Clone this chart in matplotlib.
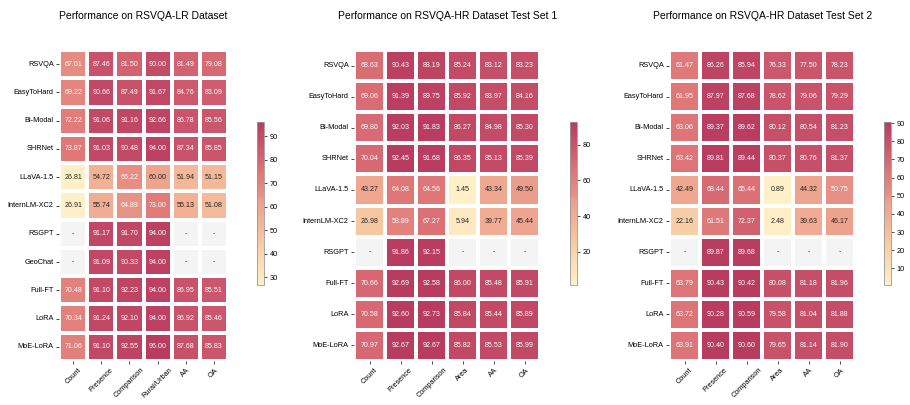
import numpy as np
import matplotlib
matplotlib.use('Agg')
import matplotlib.pyplot as plt
from matplotlib.colors import LinearSegmentedColormap, ListedColormap
import seaborn as sns

nan = np.nan

models_lr = ['RSVQA', 'EasyToHard', 'Bi-Modal', 'SHRNet', 'LLaVA-1.5', 'InternLM-XC2',
             'RSGPT', 'GeoChat', 'Full-FT', 'LoRA', 'MoE-LoRA']
models_hr = ['RSVQA', 'EasyToHard', 'Bi-Modal', 'SHRNet', 'LLaVA-1.5', 'InternLM-XC2',
             'RSGPT', 'Full-FT', 'LoRA', 'MoE-LoRA']
cols_lr = ['Count', 'Presence', 'Comparison', 'Rural/Urban', 'AA', 'OA']
cols_hr = ['Count', 'Presence', 'Comparison', 'Area', 'AA', 'OA']

lr = [[67.01, 87.46, 81.50, 90.00, 81.49, 79.08],
      [69.22, 90.66, 87.49, 91.67, 84.76, 83.09],
      [72.22, 91.06, 91.16, 92.66, 86.78, 85.56],
      [73.87, 91.03, 90.48, 94.00, 87.34, 85.85],
      [26.81, 54.72, 66.22, 60.00, 51.94, 51.15],
      [26.91, 55.74, 64.89, 73.00, 55.13, 51.08],
      [nan, 91.17, 91.70, 94.00, nan, nan],
      [nan, 91.09, 90.33, 94.00, nan, nan],
      [70.48, 91.10, 92.23, 94.00, 86.95, 85.51],
      [70.34, 91.24, 92.10, 94.00, 86.92, 85.46],
      [71.06, 91.10, 92.55, 96.00, 87.68, 85.83]]

hr1 = [[68.63, 90.43, 88.19, 85.24, 83.12, 83.23],
       [69.06, 91.39, 89.75, 85.92, 83.97, 84.16],
       [69.80, 92.03, 91.83, 86.27, 84.98, 85.30],
       [70.04, 92.45, 91.68, 86.35, 85.13, 85.39],
       [43.27, 64.08, 64.56, 1.45, 43.34, 49.50],
       [26.98, 58.89, 67.27, 5.94, 39.77, 45.44],
       [nan, 91.86, 92.15, nan, nan, nan],
       [70.66, 92.69, 92.58, 86.00, 85.48, 85.91],
       [70.58, 92.60, 92.73, 85.84, 85.44, 85.89],
       [70.97, 92.67, 92.67, 85.82, 85.53, 85.99]]

hr2 = [[61.47, 86.26, 85.94, 76.33, 77.50, 78.23],
       [61.95, 87.97, 87.68, 78.62, 79.06, 79.29],
       [63.06, 89.37, 89.62, 80.12, 80.54, 81.23],
       [63.42, 89.81, 89.44, 80.37, 80.76, 81.37],
       [42.49, 68.44, 65.44, 0.89, 44.32, 50.75],
       [22.16, 61.51, 72.37, 2.48, 39.63, 46.17],
       [nan, 89.87, 89.68, nan, nan, nan],
       [63.79, 90.43, 90.42, 80.08, 81.18, 81.96],
       [63.72, 90.28, 90.59, 79.58, 81.04, 81.88],
       [63.91, 90.40, 90.60, 79.65, 81.14, 81.90]]

titles = ['Performance on RSVQA-LR Dataset',
          'Performance on RSVQA-HR Dataset Test Set 1',
          'Performance on RSVQA-HR Dataset Test Set 2']

plt.rcParams['font.family'] = ['Liberation Sans', 'DejaVu Sans']

cmap = LinearSegmentedColormap.from_list('cream_crimson', [
    (0.0, '#fff0c8'), (0.25, '#f8cca4'), (0.45, '#f0a890'), (0.52, '#eca08c'),
    (0.545, '#e89286'), (0.68, '#e07878'), (0.8, '#d26070'), (1.0, '#b83c60')])
grey = ListedColormap(['#f4f4f4'])

fig = plt.figure(figsize=(9.1, 4.05), dpi=100)
W, H = 910.0, 405.0

# pixel boxes (left, top, right, bottom) measured on the reference
hm_boxes = [(59.3, 50, 227.7, 361), (354.3, 50, 540, 361), (669.3, 50, 855, 361)]
cb_boxes = [(257, 122, 264, 285), (570, 122, 577, 285), (884, 122, 891, 285)]

datasets = [(lr, models_lr, cols_lr), (hr1, models_hr, cols_hr), (hr2, models_hr, cols_hr)]

for k, (vals, rows, cols) in enumerate(datasets):
    arr = np.array(vals, dtype=float)
    l, t, r, b = hm_boxes[k]
    ax = fig.add_axes([l / W, 1 - b / H, (r - l) / W, (b - t) / H])
    l, t, r, b = cb_boxes[k]
    cax = fig.add_axes([l / W, 1 - b / H, (r - l) / W, (b - t) / H])

    missing = np.isnan(arr)
    # grey layer for missing cells
    sns.heatmap(np.where(missing, 0.0, nan), cmap=grey, cbar=False, linewidths=1.5,
                linecolor='white', ax=ax)
    sns.heatmap(arr, cmap=cmap, annot=True, fmt='.2f', annot_kws={'fontsize': 5.1},
                linewidths=1.5, linecolor='white', ax=ax, cbar_ax=cax,
                xticklabels=cols, yticklabels=rows)
    for i, j in zip(*np.where(missing)):
        ax.text(j + 0.5, i + 0.5, '-', ha='center', va='center', fontsize=5.1, color='#333333')

    ax.set_title(titles[k], fontsize=7.5, pad=22)
    ax.tick_params(axis='both', labelsize=5.3, length=2.5, width=0.5, pad=1.5)
    plt.setp(ax.get_xticklabels(), rotation=45, ha='center')
    plt.setp(ax.get_yticklabels(), rotation=0)

    cbar = ax.collections[-1].colorbar
    cbar.ax.tick_params(labelsize=5.3, length=2.5, width=0.5, pad=1.5)
    cbar.outline.set_edgecolor('#999999')
    cbar.outline.set_linewidth(0.6)

fig.savefig('out.png', dpi=100)
